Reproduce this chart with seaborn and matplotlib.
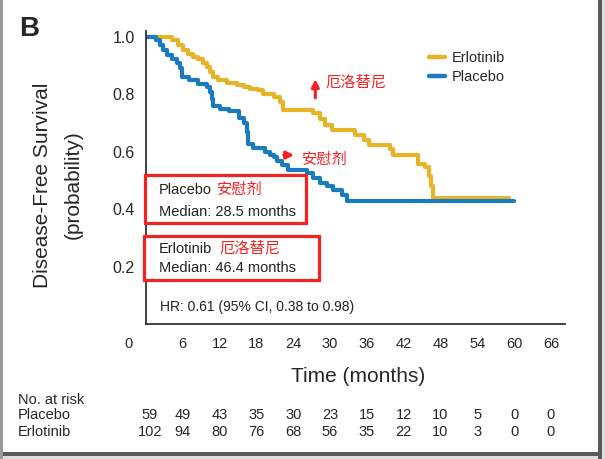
import pandas as pd
import seaborn as sns
import matplotlib.pyplot as plt
import matplotlib.transforms as mtransforms
from matplotlib.patches import Rectangle
from matplotlib.lines import Line2D

# Kaplan-Meier steps (months, survival probability)
placebo_t = [0, 1.6, 2.3, 2.8, 3.4, 4.2, 5.0, 5.5, 5.8, 7.0, 8.5, 9.9, 10.4, 10.7, 11.0,
             12.1, 13.5, 15.2, 16.0, 16.4, 16.7, 17.5, 19.4, 20.2, 20.8, 21.3, 22.1,
             23.2, 26.2, 27.3, 28.4, 29.5, 30.5, 31.9, 32.7, 60.0]
placebo_s = [1.0, 0.988, 0.970, 0.953, 0.936, 0.924, 0.907, 0.890, 0.860, 0.850, 0.837,
             0.826, 0.809, 0.785, 0.760, 0.750, 0.740, 0.718, 0.700, 0.670, 0.625, 0.611,
             0.600, 0.590, 0.580, 0.568, 0.553, 0.537, 0.524, 0.510, 0.492, 0.480, 0.466,
             0.449, 0.428, 0.428]
erlotinib_t = [0, 4.3, 5.2, 6.0, 6.8, 7.7, 8.5, 9.3, 9.9, 10.4, 11.0, 11.8, 13.2, 14.8,
               16.0, 17.0, 18.3, 19.1, 20.8, 21.9, 22.4, 27.3, 28.4, 29.2, 30.3, 34.1,
               35.5, 36.4, 39.8, 40.3, 44.3, 45.5, 46.1, 46.4, 46.8, 59.1]
erlotinib_s = [1.0, 0.988, 0.970, 0.953, 0.940, 0.930, 0.922, 0.910, 0.895, 0.878, 0.861,
               0.849, 0.838, 0.831, 0.825, 0.819, 0.813, 0.802, 0.790, 0.774, 0.746, 0.736,
               0.712, 0.692, 0.675, 0.657, 0.640, 0.623, 0.608, 0.588, 0.558, 0.545, 0.515,
               0.480, 0.437, 0.437]

xticks = [6, 12, 18, 24, 30, 36, 42, 48, 54, 60, 66]
yticks = [0.2, 0.4, 0.6, 0.8, 1.0]
risk_times = [0, 6, 12, 18, 24, 30, 36, 42, 48, 54, 60, 66]
risk_placebo = [59, 49, 43, 35, 30, 23, 15, 12, 10, 5, 0, 0]
risk_erlotinib = [102, 94, 80, 76, 68, 56, 35, 22, 10, 3, 0, 0]

colors = {"Erlotinib": "#E6B426", "Placebo": "#1A7BC1"}
RED = "#F52222"
NARROW = ["Liberation Sans Narrow", "Liberation Sans", "DejaVu Sans"]
SANS = ["Liberation Sans", "DejaVu Sans"]
CJK = ["Noto Sans CJK SC", "DejaVu Sans"]

df = pd.concat([
    pd.DataFrame({"time": erlotinib_t, "surv": erlotinib_s, "group": "Erlotinib"}),
    pd.DataFrame({"time": placebo_t, "surv": placebo_s, "group": "Placebo"}),
])

sns.set_style("white")
plt.rcParams["font.family"] = SANS

W, H = 605, 459
fig = plt.figure(figsize=(W / 100, H / 100), dpi=100)


def fx(x):
    return x / W


def fy(y):
    return 1 - y / H


ax = fig.add_axes([fx(146), fy(324), (565 - 146) / W, (324 - 31) / H])
sns.lineplot(data=df, x="time", y="surv", hue="group", hue_order=["Erlotinib", "Placebo"],
             palette=colors, drawstyle="steps-post", estimator=None, lw=3.0, ax=ax,
             legend=False)

ax.set_xlim(0, 68.3)
ax.set_ylim(0, 1.02)
ax.set_xticks(xticks)
ax.set_xticklabels([str(t) for t in xticks], fontfamily=NARROW, fontsize=10.5)
ax.set_yticks(yticks)
ax.set_yticklabels([f"{v:.1f}" for v in yticks], fontsize=11.5)
ax.tick_params(axis="x", direction="out", length=4, width=1, color="#333333", pad=5)
ax.tick_params(axis="y", direction="out", length=5, width=1, color="#333333", pad=3)
ax.set_xlabel("")
ax.set_ylabel("")
for side in ["top", "right"]:
    ax.spines[side].set_visible(False)
for side in ["left", "bottom"]:
    ax.spines[side].set_color("#333333")
    ax.spines[side].set_linewidth(1.3)

# "0" label sits left of the axis origin without a tick
ax.annotate("0", xy=(-2.8, 0), xytext=(0, -9.2), textcoords="offset points",
            ha="center", va="top", fontfamily=NARROW, fontsize=10.5,
            annotation_clip=False)

# legend
handles = [Line2D([], [], color=colors[g], lw=3.2) for g in ["Erlotinib", "Placebo"]]
ax.legend(handles, ["Erlotinib", "Placebo"], loc="upper left",
          bbox_to_anchor=((416 - 146) / 419, (324 - 38) / 293), frameon=False,
          handlelength=1.1, handletextpad=0.45, fontsize=10.5, labelspacing=0.35)

# red notes
ax.text(34.3, 0.842, "厄洛替尼", color=RED, fontfamily=CJK, fontsize=11,
        ha="center", va="center")
ax.annotate("", xy=(27.6, 0.862), xytext=(27.6, 0.778),
            arrowprops=dict(arrowstyle="-|>", color=RED, lw=2.2, mutation_scale=11))
ax.text(29.2, 0.574, "安慰剂", color=RED, fontfamily=CJK, fontsize=11,
        ha="center", va="center")
ax.annotate("", xy=(24.6, 0.588), xytext=(22.0, 0.588),
            arrowprops=dict(arrowstyle="-|>", color=RED, lw=2.2, mutation_scale=11))

# median boxes
ax.add_patch(Rectangle((-0.15, 0.351), 26.3, 0.167, fill=True, facecolor="white",
                       edgecolor=RED, lw=2.3, clip_on=False, zorder=5))
ax.add_patch(Rectangle((-0.3, 0.153), 28.5, 0.153, fill=True, facecolor="white",
                       edgecolor=RED, lw=2.3, clip_on=False, zorder=5))
ax.text(2.1, 0.466, "Placebo", fontsize=10.5, va="center", color="#222222", zorder=6)
ax.text(11.6, 0.470, "安慰剂", fontsize=11, va="center", color=RED, fontfamily=CJK, zorder=6)
ax.text(2.1, 0.391, "Median: 28.5 months", fontsize=10.5, va="center", color="#222222", zorder=6)
ax.text(2.1, 0.261, "Erlotinib", fontsize=10.5, va="center", color="#222222", zorder=6)
ax.text(11.9, 0.265, "厄洛替尼", fontsize=11, va="center", color=RED, fontfamily=CJK, zorder=6)
ax.text(2.1, 0.195, "Median: 46.4 months", fontsize=10.5, va="center", color="#222222", zorder=6)
ax.text(2.3, 0.06, "HR: 0.61 (95% CI, 0.38 to 0.98)", fontsize=10, va="center",
        color="#222222")

# axis titles
fig.text(fx(358), fy(377), "Time (months)", fontfamily=NARROW, fontsize=15,
         ha="center", va="center")
fig.text(fx(43), fy(185), "Disease-Free Survival", fontfamily=NARROW, fontsize=15,
         rotation=90, ha="center", va="center")
fig.text(fx(73), fy(185), "(probability)", fontfamily=NARROW, fontsize=15,
         rotation=90, ha="center", va="center")
fig.text(fx(29), fy(29), "B", fontsize=20, fontweight="bold", ha="center", va="center")

# numbers at risk
fig.text(fx(18), fy(400), "No. at risk", fontfamily=NARROW, fontsize=10.5, va="center")
fig.text(fx(18), fy(415), "Placebo", fontfamily=NARROW, fontsize=10.5, va="center")
fig.text(fx(18), fy(432), "Erlotinib", fontfamily=NARROW, fontsize=10.5, va="center")
blend = mtransforms.blended_transform_factory(ax.transData, fig.transFigure)
for t, p, e in zip(risk_times, risk_placebo, risk_erlotinib):
    xt = t + 0.6 if t == 0 else t
    ax.text(xt, fy(415), str(p), transform=blend, ha="center", va="center",
            fontfamily=NARROW, fontsize=10.5)
    ax.text(xt, fy(432), str(e), transform=blend, ha="center", va="center",
            fontfamily=NARROW, fontsize=10.5)

# window frame around the screenshot
fig.patches.append(Rectangle((fx(598), 0), 1 - fx(598), 1, transform=fig.transFigure,
                             facecolor="#DDDDDD", edgecolor="none", zorder=0))
fig.patches.append(Rectangle((fx(598), 0), fx(4), fy(0), transform=fig.transFigure,
                             facecolor="#5A5A5A", edgecolor="none", zorder=1))
fig.patches.append(Rectangle((0, 0), 1, fy(452), transform=fig.transFigure,
                             facecolor="#DDDDDD", edgecolor="none", zorder=0))
fig.patches.append(Rectangle((0, fy(456)), fx(602), fy(452) - fy(456),
                             transform=fig.transFigure, facecolor="#5A5A5A",
                             edgecolor="none", zorder=1))
fig.patches.append(Rectangle((0, 0), fx(3), 1, transform=fig.transFigure,
                             facecolor="#9A9A9A", edgecolor="none", zorder=1))

fig.savefig("out.png", dpi=100)
